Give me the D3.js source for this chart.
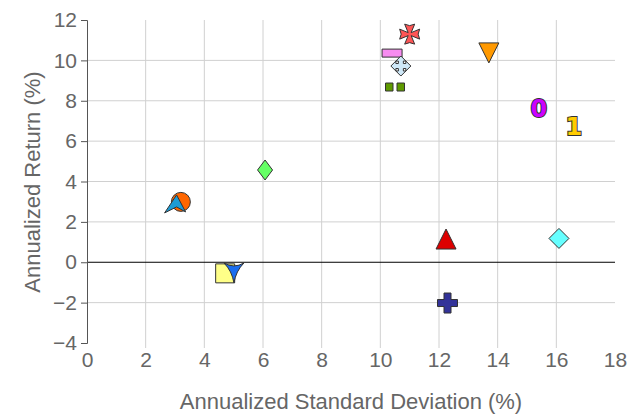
<!DOCTYPE html>
<html>
<head>
<meta charset="utf-8">
<script src="https://cdn.jsdelivr.net/npm/d3@7"></script>
<style>
  body { margin: 0; background: #fff; }
  text { font-family: "Liberation Sans", Arial, sans-serif; }
</style>
</head>
<body>
<div id="chart"></div>
<script>
// 1: DATA
const stdDev  = [11.0, 13.7, 10.4, 10.7, 10.5, 15.4, 16.6, 6.07, 3.2, 3.02, 12.24, 16.09, 4.71, 5.01, 12.29];
const returns = [11.3, 10.42, 10.36, 9.72, 8.68, 7.64, 6.75, 4.57, 2.99, 2.89, 1.15, 1.18, -0.55, -0.48, -2.02];
const symbols = ["cross", "triDown", "rect", "arrows", "twoSquares", "zero", "one", "diamondTall",
                 "circle", "arrowhead", "triUp", "diamond", "square", "concaveDown", "plus"];
const colors  = ["#ff5555", "#ff9900", "#f78cf0", "#cfe8f8", "#5f9a00", "#cc00ff", "#ffcc00", "#66ff66",
                 "#ff6600", "#1d9bd4", "#dd0000", "#66ffff", "#ffff88", "#1a6ef0", "#333399"];
const xTicks = [0, 2, 4, 6, 8, 10, 12, 14, 16, 18];
const yTicks = [-4, -2, 0, 2, 4, 6, 8, 10, 12];

// 2: LAYOUT
const W = 629, H = 415;
const margin = { top: 20, right: 14, bottom: 72, left: 87 };
const width = W - margin.left - margin.right;
const height = H - margin.top - margin.bottom;

const svg = d3.select("#chart").append("svg")
    .attr("width", W).attr("height", H);
const g = svg.append("g")
    .attr("transform", `translate(${margin.left},${margin.top})`);

// 3: SCALES
const x = d3.scaleLinear().domain([0, 18]).range([0, width]);
const y = d3.scaleLinear().domain([-4, 12]).range([height, 0]);

// 4: GRID
g.selectAll(".vgrid")
    .data(xTicks.filter(d => d > 0 && d < 18))
    .enter().append("line")
    .attr("x1", d => x(d)).attr("x2", d => x(d))
    .attr("y1", 0).attr("y2", height + 5)
    .attr("stroke", "#d0d0d0").attr("stroke-width", 1);

g.selectAll(".hgrid")
    .data(yTicks.filter(d => d > -4 && d < 12))
    .enter().append("line")
    .attr("x1", 0).attr("x2", width)
    .attr("y1", d => y(d)).attr("y2", d => y(d))
    .attr("stroke", d => d === 0 ? "#000" : "#d0d0d0")
    .attr("stroke-width", 1);

// 5: AXES
const yAxis = g.append("g")
    .call(d3.axisLeft(y).tickValues(yTicks).tickSize(6).tickSizeOuter(6).tickPadding(4));
yAxis.select(".domain").attr("stroke", "#555");
yAxis.selectAll(".tick line").attr("stroke", "#555");
yAxis.selectAll("text").attr("fill", "#666").style("font-size", "21px")
    .style("font-family", "'Liberation Sans', Arial, sans-serif");

const xAxis = g.append("g")
    .attr("transform", `translate(0,${height})`)
    .call(d3.axisBottom(x).tickValues(xTicks).tickSize(0).tickPadding(9));
xAxis.select(".domain").remove();
xAxis.selectAll("text").attr("fill", "#666").style("font-size", "21px")
    .style("font-family", "'Liberation Sans', Arial, sans-serif");

// 6: LABELS
svg.append("text")
    .attr("x", 351).attr("y", 409)
    .attr("text-anchor", "middle")
    .style("font-size", "22px").attr("fill", "#666")
    .text("Annualized Standard Deviation (%)");

svg.append("text")
    .attr("transform", "rotate(-90)")
    .attr("x", -182).attr("y", 40)
    .attr("text-anchor", "middle")
    .style("font-size", "22px").attr("fill", "#666")
    .text("Annualized Return (%)");

// 7: MARKER SHAPES (local coords around the point)
const shapes = {
    cross: "M-5,-10L0,-8.5L5,-10L1.5,-1.5L10,-5L8.5,0L10,5L1.5,1.5L5,10L0,8.5L-5,10L-1.5,1.5L-10,5L-8.5,0L-10,-5L-1.5,-1.5Z",
    triDown: "M-10,-9L10,-9L0,11Z",
    rect: "M-10,-4H10V4H-10Z",
    arrows: "M0,-10L5,-5L2.5,-5L2.5,-2.5L5,-2.5L5,-5L10,0L5,5L5,2.5L2.5,2.5L2.5,5L5,5L0,10L-5,5L-2.5,5L-2.5,2.5L-5,2.5L-5,5L-10,0L-5,-5L-5,-2.5L-2.5,-2.5L-2.5,-5L-5,-5Z",
    twoSquares: "M-9.5,-4H-2V4H-9.5ZM2,-4H9.5V4H2Z",
    diamondTall: "M0,-10L7.5,0L0,10L-7.5,0Z",
    circle: "M9.5,0A9.5,9.5 0 1,1 -9.5,0A9.5,9.5 0 1,1 9.5,0Z",
    arrowhead: "M1,-9L10,8L1,3L-11,9Z",
    triUp: "M0,-10L10,10L-10,10Z",
    diamond: "M0,-10L10,0L0,10L-10,0Z",
    square: "M-9.5,-9.5H9.5V9.5H-9.5Z",
    concaveDown: "M-10,-9Q0,-3 10,-9Q2,-1 0,11Q-2,-1 -10,-9Z",
    plus: "M-3.5,-10H3.5V-3.5H10V3.5H3.5V10H-3.5V3.5H-10V-3.5H-3.5Z"
};
const glyphs = { zero: "0", one: "1" };

// 8: POINTS
const data = stdDev.map((d, i) => ({ sd: d, ret: returns[i], sym: symbols[i], color: colors[i] }));

const pts = g.selectAll(".pt")
    .data(data)
    .enter().append("g")
    .attr("class", "pt")
    .attr("transform", d => `translate(${x(d.sd)},${y(d.ret)})`);

pts.filter(d => shapes[d.sym])
    .append("path")
    .attr("d", d => shapes[d.sym])
    .attr("fill", d => d.color)
    .attr("stroke", "#333")
    .attr("stroke-width", 1)
    .attr("stroke-linejoin", "round");

pts.filter(d => glyphs[d.sym])
    .append("text")
    .attr("text-anchor", "middle")
    .attr("dy", "0.36em")
    .style("font-family", "'DejaVu Sans', sans-serif")
    .style("font-weight", "bold")
    .style("font-size", "24px")
    .style("paint-order", "stroke")
    .attr("stroke", "#333")
    .attr("stroke-width", 2)
    .attr("fill", d => d.color)
    .text(d => glyphs[d.sym]);
</script>
</body>
</html>
